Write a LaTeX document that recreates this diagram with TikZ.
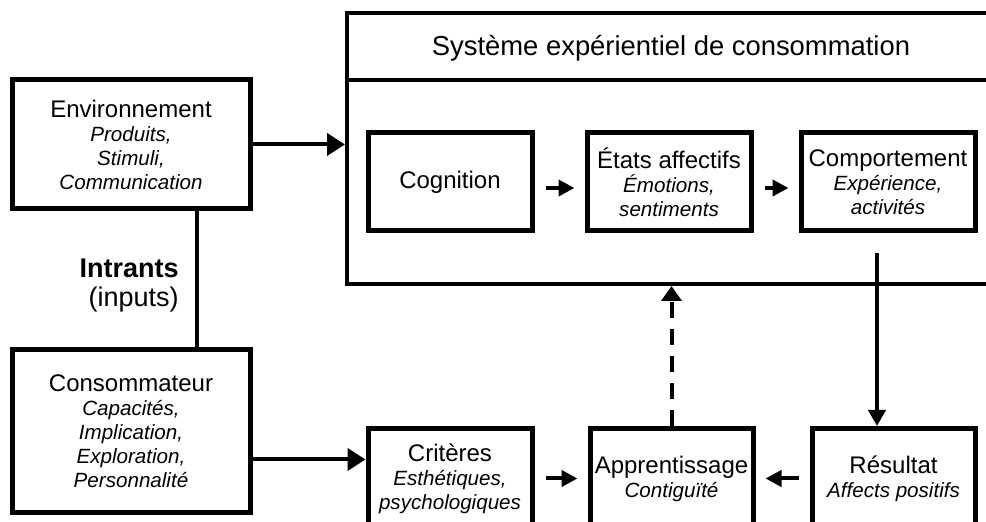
\documentclass[tikz,border=0pt]{standalone}
\usepackage{fontspec}
\setmainfont{Liberation Sans}
\usetikzlibrary{arrows.meta,positioning}
\newcommand{\detail}[1]{{\itshape\fontsize{10.3}{12}\selectfont #1}}

\begin{document}
\begin{tikzpicture}[x=0.5pt, y=-0.5pt,
        boite/.style={draw=black, line width=2.5pt, align=center, inner sep=0pt,
                font=\fontsize{12}{12}\selectfont},
        fleche/.style={line width=2pt, -{Triangle[length=9pt, width=11pt]}},
        petite/.style={line width=2pt, -{Triangle[length=8pt, width=8pt]},
                shorten <=5.5pt, shorten >=5pt}]
        \useasboundingbox (0, 0) rectangle (986, 522);
        \clip (0, 0) rectangle (986, 522);

        \node [draw=black, line width=2pt, minimum width=324pt, minimum height=135.5pt] at (671, 148.5) (sys) {};
        \draw [line width=2pt] (sys.west |- 0, 80) -- (sys.east |- 0, 80);
        \node [font=\fontsize{13.7}{14}\selectfont] at (671, 48) (titre) {Système expérientiel de consommation};

        \node [boite, minimum width=119pt, minimum height=64.5pt] at (131, 144.5) (env)
                {Environnement\\ \detail{Produits,}\\ \detail{Stimuli,}\\ \detail{Communication}};
        \node [boite, minimum width=119pt, minimum height=81.5pt] at (131, 431.5) (cons)
                {Consommateur\\ \detail{Capacités,}\\ \detail{Implication,}\\ \detail{Exploration,}\\ \detail{Personnalité}};
        \node [align=right, anchor=east, inner sep=0pt, font=\fontsize{13.5}{14.5}\selectfont] at (179, 286) (intrants)
                {\textbf{Intrants}\\ (inputs)};

        \node [boite, minimum width=82pt, minimum height=49pt] at (450, 182) (cog) {Cognition};
        \node [boite, minimum width=82pt, minimum height=49pt] at (669, 182) (etat)
                {États affectifs\\ \detail{Émotions,}\\ \detail{sentiments}};
        \node [boite, minimum width=87pt, minimum height=49pt] at (888, 182) (comp)
                {Comportement\\ \detail{Expérience,}\\ \detail{activités}};

        \node [boite, minimum width=82pt, minimum height=50pt, anchor=north] at (450, 426) (crit)
                {Critères\\ \detail{Esthétiques,}\\ \detail{psychologiques}};
        \node [boite, minimum width=81.5pt, minimum height=50pt, anchor=north] at (671.5, 426) (appr)
                {Apprentissage\\ \detail{Contiguïté}};
        \node [boite, minimum width=81.5pt, minimum height=50pt, anchor=north] at (893.5, 426) (res)
                {Résultat\\ \detail{Affects positifs}};

        \coordinate (depart) at (877, 253);

        \draw [fleche] (env.east) -- (env.east -| sys.west);
        \draw [line width=2pt] ([xshift=33pt]env.south) -- ([xshift=33pt]cons.north);
        \draw [fleche] ([yshift=-14pt]cons.east) -- ([yshift=-14pt]cons.east -| crit.west);
        \draw [petite] ([yshift=-3pt]cog.east) -- ([yshift=-3pt]etat.west);
        \draw [petite] ([yshift=-3pt]etat.east) -- ([yshift=-3pt]comp.west);
        \draw [fleche, -{Triangle[length=8pt, width=8.5pt]}] (depart) -- (depart |- res.north);
        \draw [petite] (crit) -- (appr);
        \draw [petite] (res) -- (appr);
        \draw [fleche, -{Triangle[length=7.5pt, width=10pt]}, dash pattern=on 8pt off 5.5pt]
                (appr.north) -- (appr.north |- sys.south);
\end{tikzpicture}
\end{document}
